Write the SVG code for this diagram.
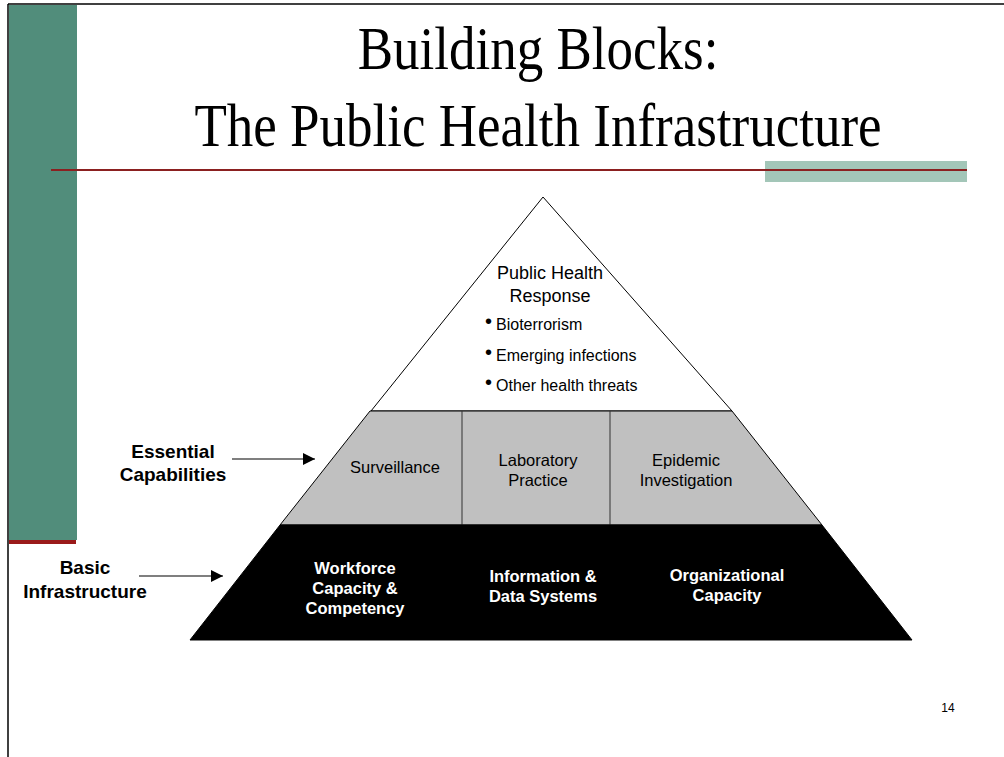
<svg xmlns="http://www.w3.org/2000/svg" width="1004" height="757" viewBox="0 0 1004 757">
  <defs>
    <marker id="arrow" markerWidth="12" markerHeight="12" refX="12" refY="6" orient="auto" markerUnits="userSpaceOnUse">
      <path d="M0,0 L12,6 L0,12 Z" fill="#000"/>
    </marker>
    <style>
      .title { font-family: "Liberation Serif", "Times New Roman", serif; font-size: 53px; fill: #000; text-anchor: middle; }
      .lbl { font-family: "Liberation Sans", Arial, sans-serif; font-size: 16.5px; fill: #000; text-anchor: middle; }
      .bul { font-family: "Liberation Sans", Arial, sans-serif; font-size: 16px; fill: #000; }
      .dot { font-family: "Liberation Sans", Arial, sans-serif; font-size: 20px; fill: #000; }
      .wb { font-family: "Liberation Sans", Arial, sans-serif; font-size: 16.5px; font-weight: bold; fill: #fff; text-anchor: middle; }
      .side { font-family: "Liberation Sans", Arial, sans-serif; font-size: 19px; font-weight: bold; fill: #000; text-anchor: middle; }
      .conn { stroke: #000; stroke-width: 1.2; fill: none; }
    </style>
  </defs>
  <rect x="0" y="0" width="1004" height="757" fill="#fff"/>
  <!-- frame and decorations -->
  <g id="decor">
    <rect x="9" y="5" width="68" height="535" fill="#518d7b"/>
    <rect x="9" y="540" width="67" height="4" fill="#9a1a1a"/>
    <rect x="765" y="161" width="202" height="21" fill="#a3c6b8"/>
    <line x1="51" y1="170" x2="967" y2="170" stroke="#8b2020" stroke-width="2"/>
    <line x1="8" y1="4" x2="8" y2="757" stroke="#000" stroke-width="1.5"/>
    <line x1="8" y1="4" x2="1004" y2="4" stroke="#000" stroke-width="1.5"/>
  </g>
  <g id="title">
    <text class="title" transform="translate(538,69) scale(1,1.15)">Building Blocks:</text>
    <text class="title" transform="translate(538,146) scale(1,1.15)">The Public Health Infrastructure</text>
  </g>
  <!-- pyramid top -->
  <g id="response">
    <polygon points="543,197 371,411 732,411" fill="#fff" stroke="#000" stroke-width="1"/>
    <text class="lbl" style="font-size:18px" x="550" y="279">Public Health</text>
    <text class="lbl" style="font-size:18px" x="550" y="302">Response</text>
    <text class="dot" x="485" y="328">•</text>
    <text class="bul" x="496" y="330">Bioterrorism</text>
    <text class="dot" x="485" y="359">•</text>
    <text class="bul" x="496" y="361">Emerging infections</text>
    <text class="dot" x="485" y="389">•</text>
    <text class="bul" x="496" y="391">Other health threats</text>
  </g>
  <!-- essential capabilities band -->
  <g id="capabilities">
    <polygon points="370,411 732,411 822,525 280,525" fill="#c0c0c0" stroke="#000" stroke-width="1"/>
    <line x1="462" y1="411" x2="462" y2="525" stroke="#333" stroke-width="1"/>
    <line x1="610" y1="411" x2="610" y2="525" stroke="#333" stroke-width="1"/>
    <text class="lbl" x="395" y="473">Surveillance</text>
    <text class="lbl" x="538" y="466">Laboratory</text>
    <text class="lbl" x="538" y="486">Practice</text>
    <text class="lbl" x="686" y="466">Epidemic</text>
    <text class="lbl" x="686" y="486">Investigation</text>
  </g>
  <!-- basic infrastructure band -->
  <g id="infrastructure">
    <polygon points="280,525 822,525 912,640 190,640" fill="#000" stroke="#000" stroke-width="1"/>
    <line x1="190" y1="640.5" x2="912" y2="640.5" stroke="#808080" stroke-width="1"/>
    <text class="wb" x="355" y="574">Workforce</text>
    <text class="wb" x="355" y="594">Capacity &amp;</text>
    <text class="wb" x="355" y="614">Competency</text>
    <text class="wb" x="543" y="582">Information &amp;</text>
    <text class="wb" x="543" y="602">Data Systems</text>
    <text class="wb" x="727" y="581">Organizational</text>
    <text class="wb" x="727" y="601">Capacity</text>
  </g>
  <g id="label-essential">
    <text class="side" x="173" y="458">Essential</text>
    <text class="side" x="173" y="481">Capabilities</text>
  </g>
  <g id="label-basic">
    <text class="side" x="85" y="574">Basic</text>
    <text class="side" x="85" y="598">Infrastructure</text>
  </g>
  <g id="connectors">
    <line class="conn" x1="232" y1="459" x2="315" y2="459" marker-end="url(#arrow)"/>
    <line class="conn" x1="139" y1="576" x2="223" y2="576" marker-end="url(#arrow)"/>
  </g>
  <g id="page-number">
    <text class="lbl" style="font-size:12px" x="948" y="712">14</text>
  </g>
</svg>
